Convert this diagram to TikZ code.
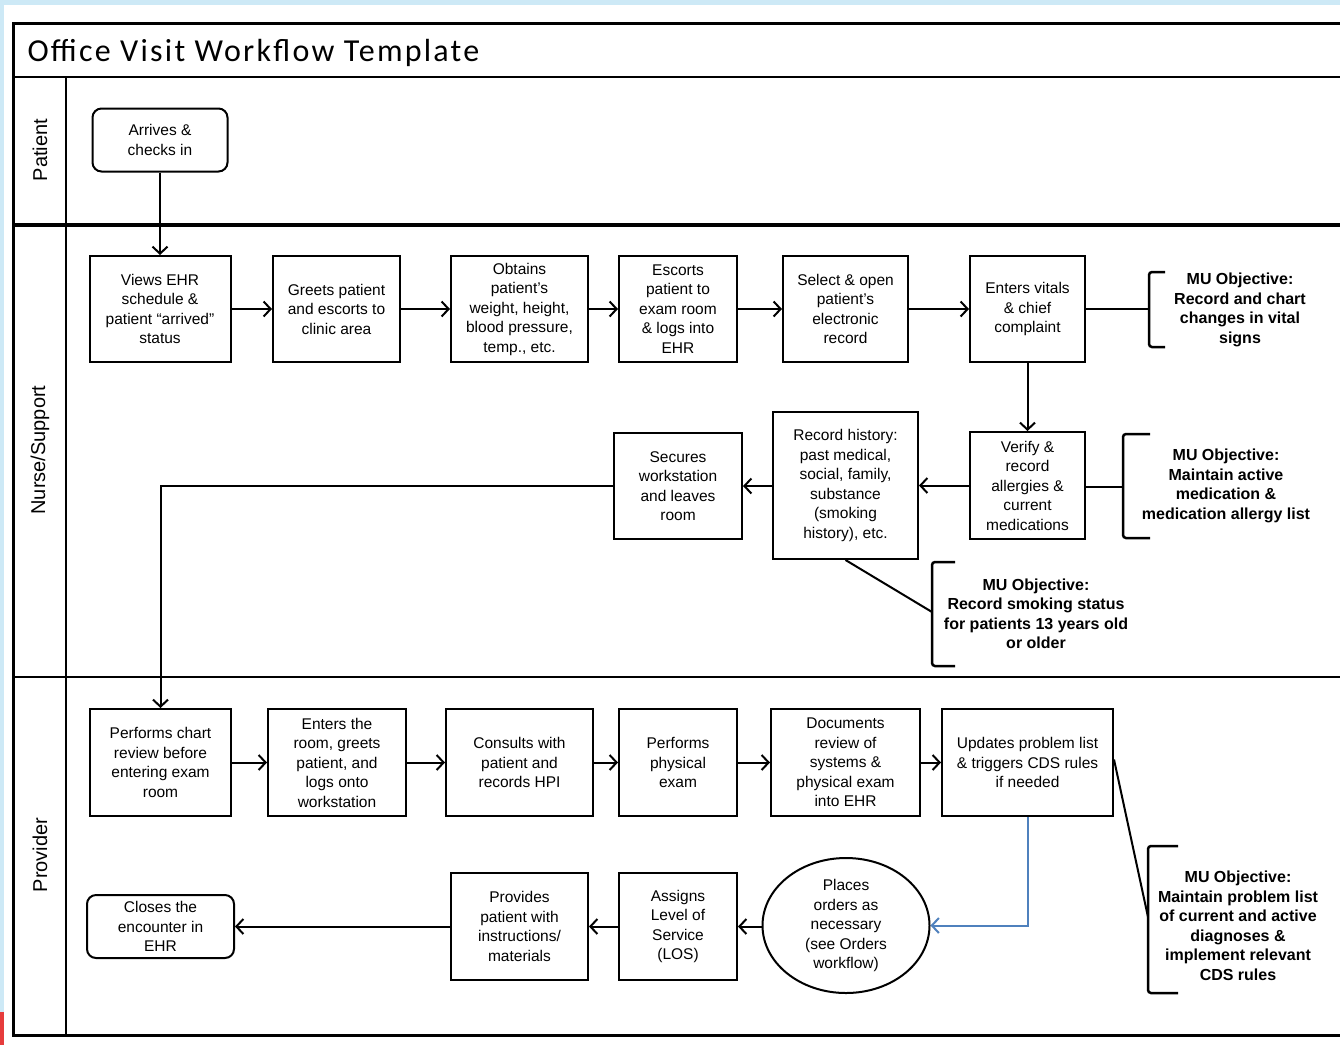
\documentclass[tikz,border=0pt]{standalone}
\usepackage{fontspec}
\setmainfont{Liberation Sans}
\newfontfamily\titlefont[LetterSpace=7]{Carlito}
\usetikzlibrary{arrows.meta, shapes.geometric}

\definecolor{edgeblue}{RGB}{205,233,246}
\definecolor{flowblue}{RGB}{79,129,189}
\definecolor{edgered}{RGB}{230,60,60}

\tikzset{
  stepnode/.style={draw, line width=2pt, align=center, inner sep=0pt,
                   font=\fontsize{15.5}{19.5}\selectfont},
  roundnode/.style={stepnode, rounded corners=9pt},
  ordernode/.style={stepnode, ellipse},
  mutext/.style={align=center, inner sep=0pt,
                 font=\bfseries\fontsize{16}{19.5}\selectfont},
  lanename/.style={rotate=90, font=\fontsize{20}{24}\selectfont},
  flow/.style={line width=2pt, -{Straight Barb[length=7pt,width=15pt]}},
  link/.style={line width=2pt},
  bracket/.style={line width=2.5pt, rounded corners=3pt},
}

\begin{document}
\begin{tikzpicture}%
        [x=1pt, y=-1pt]
        \useasboundingbox (0,0) rectangle (1340,1045);
        % page edge
        \fill[edgeblue] (0,0) rectangle (1340,1045);
        \fill[white] (4,5) rectangle (1340,1045);
        \fill[edgered] (0,1012) rectangle (4,1045);

        % frame and lanes
        \draw[line width=3pt] (1345,23) -- (13,23) -- (13,1035) -- (1345,1035);
        \draw[line width=2.5pt] (13,77) -- (1345,77);
        \draw[line width=3.5pt] (13,225) -- (1345,225);
        \draw[line width=2.5pt] (13,677) -- (1345,677);
        \draw[line width=2.5pt] (66,77) -- (66,1035);

        \node[anchor=west, font=\titlefont\fontsize{32}{36}\selectfont] (title) at (24,53) {Office Visit Workflow Template};
        \node[lanename] (lanepatient) at (40,150) {Patient};
        \node[lanename] (lanenurse) at (40,450) {Nurse/Support};
        \node[lanename] (laneprovider) at (40,855) {Provider};

        % patient
        \node[roundnode, minimum width=135pt, minimum height=63pt] (arrive) at (160,140) {Arrives \&\\checks in};

        % nurse / support
        \node[stepnode, minimum width=141pt, minimum height=106pt] (views) at (160,309) {Views EHR\\schedule \&\\patient “arrived”\\status};
        \node[stepnode, minimum width=127pt, minimum height=106pt] (greets) at (336.5,309) {Greets patient\\and escorts to\\clinic area};
        \node[stepnode, minimum width=137pt, minimum height=106pt] (obtains) at (519.5,309) {Obtains\\patient’s\\weight, height,\\blood pressure,\\temp., etc.};
        \node[stepnode, minimum width=118pt, minimum height=106pt] (escorts) at (678,309) {Escorts\\patient to\\exam room\\\& logs into\\EHR};
        \node[stepnode, minimum width=125pt, minimum height=106pt] (select) at (845.5,309) {Select \& open\\patient’s\\electronic\\record};
        \node[stepnode, minimum width=115pt, minimum height=106pt] (vitals) at (1027.5,309) {Enters vitals\\\& chief\\complaint};

        \node[stepnode, minimum width=115pt, minimum height=107pt] (verify) at (1027.5,485.5) {Verify \&\\record\\allergies \&\\current\\medications};
        \node[stepnode, minimum width=145pt, minimum height=147pt] (history) at (845.5,485.5) {Record history:\\past medical,\\social, family,\\substance\\(smoking\\history), etc.};
        \node[stepnode, minimum width=128pt, minimum height=106pt] (secures) at (678,486) {Secures\\workstation\\and leaves\\room};

        % provider
        \node[stepnode, minimum width=141pt, minimum height=107pt] (chart) at (160.5,762.5) {Performs chart\\review before\\entering exam\\room};
        \node[stepnode, minimum width=138pt, minimum height=107pt] (enters) at (337,762.5) {Enters the\\room, greets\\patient, and\\logs onto\\workstation};
        \node[stepnode, minimum width=147pt, minimum height=107pt] (consults) at (519.5,762.5) {Consults with\\patient and\\records HPI};
        \node[stepnode, minimum width=118pt, minimum height=107pt] (physical) at (678,762.5) {Performs\\physical\\exam};
        \node[stepnode, minimum width=149pt, minimum height=107pt] (documents) at (845.5,762.5) {Documents\\review of\\systems \&\\physical exam\\into EHR};
        \node[stepnode, minimum width=171pt, minimum height=107pt] (updates) at (1027.5,762.5) {Updates problem list\\\& triggers CDS rules\\if needed};

        \node[ordernode, minimum width=167pt, minimum height=135pt] (places) at (846,925.5) {Places\\orders as\\necessary\\(see Orders\\workflow)};
        \node[stepnode, minimum width=118pt, minimum height=107pt] (assigns) at (678,926.5) {Assigns\\Level of\\Service\\(LOS)};
        \node[stepnode, minimum width=137pt, minimum height=107pt] (provides) at (519.5,926.5) {Provides\\patient with\\instructions/\\materials};
        \node[roundnode, minimum width=147pt, minimum height=63pt] (closes) at (160.5,926.5) {Closes the\\encounter in\\EHR};

        % MU objectives
        \node[mutext] (muvitals) at (1240,310) {MU Objective:\\Record and chart\\changes in vital\\signs};
        \node[mutext] (mumeds) at (1226,486) {MU Objective:\\Maintain active\\medication \&\\medication allergy list};
        \node[mutext] (musmoke) at (1036,614) {MU Objective:\\Record smoking status\\for patients 13 years old\\or older};
        \node[mutext] (muproblem) at (1238,926) {MU Objective:\\Maintain problem list\\of current and active\\diagnoses \&\\implement relevant\\CDS rules};

        \draw[bracket] (1165,272) -- (1149,272) -- (1149,347) -- (1165,347);
        \draw[bracket] (1150,434) -- (1123,434) -- (1123,538) -- (1150,538);
        \draw[bracket] (955,562) -- (932,562) -- (932,666) -- (955,666);
        \draw[bracket] (1178,846) -- (1148,846) -- (1148,993) -- (1178,993);
        \coordinate (muvitalsb) at (1149,309);
        \coordinate (mumedsb) at (1123,487);
        \coordinate (musmokeb) at (932,612);
        \coordinate (muproblemb) at (1148,917);

        % flow
        \draw[flow] (arrive) -- (views);
        \draw[flow] (views) -- (greets);
        \draw[flow] (greets) -- (obtains);
        \draw[flow] (obtains) -- (escorts);
        \draw[flow] (escorts) -- (select);
        \draw[flow] (select) -- (vitals);
        \draw[flow] (vitals) -- (verify);
        \draw[flow] (verify.west) -- (history.east |- verify.west);
        \draw[flow] (history.west |- secures.east) -- (secures.east);
        \draw[flow] (secures.west) -| (chart.north);
        \draw[flow] (chart) -- (enters);
        \draw[flow] (enters) -- (consults);
        \draw[flow] (consults) -- (physical);
        \draw[flow] (physical) -- (documents);
        \draw[flow] (documents) -- (updates);
        \draw[flow, flowblue] (updates.south) |- (places.east);
        \draw[flow] (places.west |- assigns.east) -- (assigns.east);
        \draw[flow] (assigns) -- (provides);
        \draw[flow] (provides.west) -- (closes.east);

        % links to objectives
        \draw[link] (vitals.east) -- (muvitalsb);
        \draw[link] (verify.east |- mumedsb) -- (mumedsb);
        \draw[link] (history.south) -- (musmokeb);
        \draw[link] ([yshift=3pt]updates.east) -- (muproblemb);
\end{tikzpicture}
\end{document}
